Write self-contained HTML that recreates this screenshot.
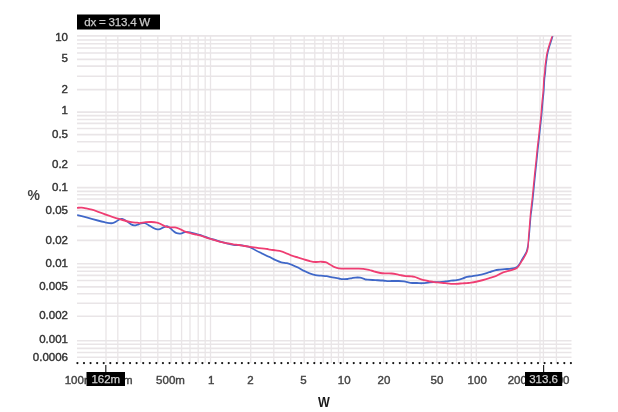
<!DOCTYPE html>
<html><head><meta charset="utf-8"><style>
html,body{margin:0;padding:0;background:#fff;width:618px;height:412px;overflow:hidden}
svg{display:block;filter:blur(0.5px)}
text{font-family:"Liberation Sans",sans-serif;font-size:11px}
.lb text{stroke:currentColor;stroke-width:0.4px;font-size:11.5px}
</style></head><body>
<svg width="618" height="412" viewBox="0 0 618 412">
<rect width="618" height="412" fill="#fff"/>
<g stroke="#e9e5e7">
<line x1="77" x2="571.5" y1="35.9" y2="35.9" stroke-width="1.6"/>
<line x1="77" x2="571.5" y1="40.0" y2="40.0" stroke-width="1.6"/>
<line x1="77" x2="571.5" y1="43.8" y2="43.8" stroke-width="1.6"/>
<line x1="77" x2="571.5" y1="48.0" y2="48.0" stroke-width="1.6"/>
<line x1="77" x2="571.5" y1="53.0" y2="53.0" stroke-width="1.6"/>
<line x1="77" x2="571.5" y1="59.4" y2="59.4" stroke-width="1.6"/>
<line x1="77" x2="571.5" y1="66.1" y2="66.1" stroke-width="1.6"/>
<line x1="77" x2="571.5" y1="76.2" y2="76.2" stroke-width="1.6"/>
<line x1="77" x2="571.5" y1="89.6" y2="89.6" stroke-width="1.6"/>
<line x1="77" x2="571.5" y1="112.1" y2="112.1" stroke-width="1.6"/>
<line x1="77" x2="571.5" y1="115.6" y2="115.6" stroke-width="1.6"/>
<line x1="77" x2="571.5" y1="119.45" y2="119.45" stroke-width="1.6"/>
<line x1="77" x2="571.5" y1="123.4" y2="123.4" stroke-width="1.6"/>
<line x1="77" x2="571.5" y1="128.55" y2="128.55" stroke-width="1.6"/>
<line x1="77" x2="571.5" y1="134.65" y2="134.65" stroke-width="1.6"/>
<line x1="77" x2="571.5" y1="141.7" y2="141.7" stroke-width="1.6"/>
<line x1="77" x2="571.5" y1="151.55" y2="151.55" stroke-width="1.6"/>
<line x1="77" x2="571.5" y1="165.2" y2="165.2" stroke-width="1.6"/>
<line x1="77" x2="571.5" y1="187.6" y2="187.6" stroke-width="1.6"/>
<line x1="77" x2="571.5" y1="191.4" y2="191.4" stroke-width="1.6"/>
<line x1="77" x2="571.5" y1="194.7" y2="194.7" stroke-width="1.6"/>
<line x1="77" x2="571.5" y1="199.0" y2="199.0" stroke-width="1.6"/>
<line x1="77" x2="571.5" y1="203.9" y2="203.9" stroke-width="1.6"/>
<line x1="77" x2="571.5" y1="210.3" y2="210.3" stroke-width="1.6"/>
<line x1="77" x2="571.5" y1="216.2" y2="216.2" stroke-width="1.6"/>
<line x1="77" x2="571.5" y1="226.4" y2="226.4" stroke-width="1.6"/>
<line x1="77" x2="571.5" y1="240.4" y2="240.4" stroke-width="1.6"/>
<line x1="77" x2="571.5" y1="263.7" y2="263.7" stroke-width="1.6"/>
<line x1="77" x2="571.5" y1="267.4" y2="267.4" stroke-width="1.6"/>
<line x1="77" x2="571.5" y1="271.25" y2="271.25" stroke-width="1.6"/>
<line x1="77" x2="571.5" y1="275.4" y2="275.4" stroke-width="1.6"/>
<line x1="77" x2="571.5" y1="280.5" y2="280.5" stroke-width="1.6"/>
<line x1="77" x2="571.5" y1="286.9" y2="286.9" stroke-width="1.6"/>
<line x1="77" x2="571.5" y1="293.7" y2="293.7" stroke-width="1.6"/>
<line x1="77" x2="571.5" y1="303.3" y2="303.3" stroke-width="1.6"/>
<line x1="77" x2="571.5" y1="316.2" y2="316.2" stroke-width="1.6"/>
<line x1="77" x2="571.5" y1="340.7" y2="340.7" stroke-width="1.6"/>
<line x1="77" x2="571.5" y1="344.3" y2="344.3" stroke-width="1.6"/>
<line x1="77" x2="571.5" y1="348.35" y2="348.35" stroke-width="1.6"/>
<line x1="77" x2="571.5" y1="352.5" y2="352.5" stroke-width="1.6"/>
<line x1="77" x2="571.5" y1="357.3" y2="357.3" stroke-width="1.6"/>
<line x1="117.8" x2="117.8" y1="36" y2="363" stroke-width="1.3"/>
<line x1="140.7" x2="140.7" y1="36" y2="363" stroke-width="1.3"/>
<line x1="157.8" x2="157.8" y1="36" y2="363" stroke-width="1.3"/>
<line x1="171.0" x2="171.0" y1="36" y2="363" stroke-width="1.3"/>
<line x1="181.6" x2="181.6" y1="36" y2="363" stroke-width="1.3"/>
<line x1="190.0" x2="190.0" y1="36" y2="363" stroke-width="1.3"/>
<line x1="198.2" x2="198.2" y1="36" y2="363" stroke-width="1.3"/>
<line x1="205.2" x2="205.2" y1="36" y2="363" stroke-width="1.3"/>
<line x1="210.5" x2="210.5" y1="36" y2="363" stroke-width="1.3"/>
<line x1="250.7" x2="250.7" y1="36" y2="363" stroke-width="1.3"/>
<line x1="273.8" x2="273.8" y1="36" y2="363" stroke-width="1.3"/>
<line x1="290.7" x2="290.7" y1="36" y2="363" stroke-width="1.3"/>
<line x1="304.2" x2="304.2" y1="36" y2="363" stroke-width="1.3"/>
<line x1="314.8" x2="314.8" y1="36" y2="363" stroke-width="1.3"/>
<line x1="323.2" x2="323.2" y1="36" y2="363" stroke-width="1.3"/>
<line x1="331.3" x2="331.3" y1="36" y2="363" stroke-width="1.3"/>
<line x1="338.5" x2="338.5" y1="36" y2="363" stroke-width="1.3"/>
<line x1="343.4" x2="343.4" y1="36" y2="363" stroke-width="1.3"/>
<line x1="383.6" x2="383.6" y1="36" y2="363" stroke-width="1.3"/>
<line x1="406.5" x2="406.5" y1="36" y2="363" stroke-width="1.3"/>
<line x1="423.5" x2="423.5" y1="36" y2="363" stroke-width="1.3"/>
<line x1="436.8" x2="436.8" y1="36" y2="363" stroke-width="1.3"/>
<line x1="447.6" x2="447.6" y1="36" y2="363" stroke-width="1.3"/>
<line x1="456.5" x2="456.5" y1="36" y2="363" stroke-width="1.3"/>
<line x1="464.4" x2="464.4" y1="36" y2="363" stroke-width="1.3"/>
<line x1="471.3" x2="471.3" y1="36" y2="363" stroke-width="1.3"/>
<line x1="476.3" x2="476.3" y1="36" y2="363" stroke-width="1.3"/>
<line x1="517.3" x2="517.3" y1="36" y2="363" stroke-width="1.3"/>
<line x1="540.0" x2="540.0" y1="36" y2="363" stroke-width="1.3"/>
<line x1="556.4" x2="556.4" y1="36" y2="363" stroke-width="1.3"/>
<line x1="106.0" x2="106.0" y1="36" y2="363" stroke-width="1.3"/>
<line x1="543.4" x2="543.4" y1="36" y2="363" stroke-width="1.3"/>
</g>
<g fill="#111">
<circle cx="77.40" cy="363.1" r="1.1"/>
<circle cx="83.98" cy="363.1" r="1.1"/>
<circle cx="90.56" cy="363.1" r="1.1"/>
<circle cx="97.14" cy="363.1" r="1.1"/>
<circle cx="103.72" cy="363.1" r="1.1"/>
<circle cx="110.30" cy="363.1" r="1.1"/>
<circle cx="116.88" cy="363.1" r="1.1"/>
<circle cx="123.46" cy="363.1" r="1.1"/>
<circle cx="130.04" cy="363.1" r="1.1"/>
<circle cx="136.62" cy="363.1" r="1.1"/>
<circle cx="143.20" cy="363.1" r="1.1"/>
<circle cx="149.78" cy="363.1" r="1.1"/>
<circle cx="156.36" cy="363.1" r="1.1"/>
<circle cx="162.94" cy="363.1" r="1.1"/>
<circle cx="169.52" cy="363.1" r="1.1"/>
<circle cx="176.10" cy="363.1" r="1.1"/>
<circle cx="182.68" cy="363.1" r="1.1"/>
<circle cx="189.26" cy="363.1" r="1.1"/>
<circle cx="195.84" cy="363.1" r="1.1"/>
<circle cx="202.42" cy="363.1" r="1.1"/>
<circle cx="209.00" cy="363.1" r="1.1"/>
<circle cx="215.58" cy="363.1" r="1.1"/>
<circle cx="222.16" cy="363.1" r="1.1"/>
<circle cx="228.74" cy="363.1" r="1.1"/>
<circle cx="235.32" cy="363.1" r="1.1"/>
<circle cx="241.90" cy="363.1" r="1.1"/>
<circle cx="248.48" cy="363.1" r="1.1"/>
<circle cx="255.06" cy="363.1" r="1.1"/>
<circle cx="261.64" cy="363.1" r="1.1"/>
<circle cx="268.22" cy="363.1" r="1.1"/>
<circle cx="274.80" cy="363.1" r="1.1"/>
<circle cx="281.38" cy="363.1" r="1.1"/>
<circle cx="287.96" cy="363.1" r="1.1"/>
<circle cx="294.54" cy="363.1" r="1.1"/>
<circle cx="301.12" cy="363.1" r="1.1"/>
<circle cx="307.70" cy="363.1" r="1.1"/>
<circle cx="314.28" cy="363.1" r="1.1"/>
<circle cx="320.86" cy="363.1" r="1.1"/>
<circle cx="327.44" cy="363.1" r="1.1"/>
<circle cx="334.02" cy="363.1" r="1.1"/>
<circle cx="340.60" cy="363.1" r="1.1"/>
<circle cx="347.18" cy="363.1" r="1.1"/>
<circle cx="353.76" cy="363.1" r="1.1"/>
<circle cx="360.34" cy="363.1" r="1.1"/>
<circle cx="366.92" cy="363.1" r="1.1"/>
<circle cx="373.50" cy="363.1" r="1.1"/>
<circle cx="380.08" cy="363.1" r="1.1"/>
<circle cx="386.66" cy="363.1" r="1.1"/>
<circle cx="393.24" cy="363.1" r="1.1"/>
<circle cx="399.82" cy="363.1" r="1.1"/>
<circle cx="406.40" cy="363.1" r="1.1"/>
<circle cx="412.98" cy="363.1" r="1.1"/>
<circle cx="419.56" cy="363.1" r="1.1"/>
<circle cx="426.14" cy="363.1" r="1.1"/>
<circle cx="432.72" cy="363.1" r="1.1"/>
<circle cx="439.30" cy="363.1" r="1.1"/>
<circle cx="445.88" cy="363.1" r="1.1"/>
<circle cx="452.46" cy="363.1" r="1.1"/>
<circle cx="459.04" cy="363.1" r="1.1"/>
<circle cx="465.62" cy="363.1" r="1.1"/>
<circle cx="472.20" cy="363.1" r="1.1"/>
<circle cx="478.78" cy="363.1" r="1.1"/>
<circle cx="485.36" cy="363.1" r="1.1"/>
<circle cx="491.94" cy="363.1" r="1.1"/>
<circle cx="498.52" cy="363.1" r="1.1"/>
<circle cx="505.10" cy="363.1" r="1.1"/>
<circle cx="511.68" cy="363.1" r="1.1"/>
<circle cx="518.26" cy="363.1" r="1.1"/>
<circle cx="524.84" cy="363.1" r="1.1"/>
<circle cx="531.42" cy="363.1" r="1.1"/>
<circle cx="538.00" cy="363.1" r="1.1"/>
<circle cx="544.58" cy="363.1" r="1.1"/>
<circle cx="551.16" cy="363.1" r="1.1"/>
<circle cx="557.74" cy="363.1" r="1.1"/>
<circle cx="564.32" cy="363.1" r="1.1"/>
<circle cx="570.90" cy="363.1" r="1.1"/>
</g>
<defs><clipPath id="pc"><rect x="77" y="36.3" width="495" height="327"/></clipPath></defs>
<g clip-path="url(#pc)"><g transform="scale(0.72,1)">
<path d="M107.92,215.20 C109.95,215.57 115.49,216.52 120.14,217.40 C124.79,218.28 131.64,219.70 135.83,220.50 C140.02,221.30 142.64,221.77 145.28,222.20 C147.92,222.63 149.81,222.95 151.67,223.10 C153.52,223.25 154.81,223.35 156.39,223.10 C157.96,222.85 159.54,222.23 161.11,221.60 C162.69,220.97 164.40,219.73 165.83,219.30 C167.27,218.87 168.15,218.75 169.72,219.00 C171.30,219.25 173.31,219.93 175.28,220.80 C177.25,221.67 179.70,223.43 181.53,224.20 C183.36,224.97 184.68,225.32 186.25,225.40 C187.82,225.48 189.40,225.05 190.97,224.70 C192.55,224.35 194.03,223.57 195.69,223.30 C197.36,223.03 199.31,222.85 200.97,223.10 C202.64,223.35 203.84,224.05 205.69,224.80 C207.55,225.55 209.98,226.85 212.08,227.60 C214.19,228.35 216.50,229.10 218.33,229.30 C220.16,229.50 220.97,229.30 223.06,228.80 C225.14,228.30 228.75,226.50 230.83,226.30 C232.92,226.10 234.05,226.90 235.56,227.60 C237.06,228.30 238.22,229.57 239.86,230.50 C241.50,231.43 243.33,232.72 245.42,233.20 C247.50,233.68 250.46,233.60 252.36,233.40 C254.26,233.20 254.88,232.17 256.81,232.00 C258.73,231.83 261.13,232.03 263.89,232.40 C266.64,232.77 270.44,233.63 273.33,234.20 C276.23,234.77 278.38,235.10 281.25,235.80 C284.12,236.50 287.31,237.65 290.56,238.40 C293.80,239.15 297.69,239.67 300.69,240.30 C303.70,240.93 306.00,241.63 308.61,242.20 C311.23,242.77 313.77,243.27 316.39,243.70 C319.00,244.13 321.67,244.55 324.31,244.80 C326.94,245.05 329.65,245.00 332.22,245.20 C334.79,245.40 337.15,245.63 339.72,246.00 C342.29,246.37 345.00,246.65 347.64,247.40 C350.28,248.15 352.94,249.52 355.56,250.50 C358.17,251.48 360.72,252.37 363.33,253.30 C365.95,254.23 369.31,255.45 371.25,256.10 C373.19,256.75 373.06,256.52 375.00,257.20 C376.94,257.88 380.30,259.33 382.92,260.20 C385.53,261.07 388.08,261.90 390.69,262.40 C393.31,262.90 396.00,262.75 398.61,263.20 C401.23,263.65 403.77,264.35 406.39,265.10 C409.00,265.85 411.67,266.75 414.31,267.70 C416.94,268.65 419.61,269.85 422.22,270.80 C424.84,271.75 427.38,272.68 430.00,273.40 C432.62,274.12 435.28,274.72 437.92,275.10 C440.56,275.48 443.22,275.52 445.83,275.70 C448.45,275.88 451.00,275.92 453.61,276.20 C456.23,276.48 458.66,277.02 461.53,277.40 C464.40,277.78 468.47,278.22 470.83,278.50 C473.19,278.78 473.70,279.02 475.69,279.10 C477.69,279.18 480.58,279.17 482.78,279.00 C484.98,278.83 487.08,278.33 488.89,278.10 C490.69,277.87 491.76,277.67 493.61,277.60 C495.46,277.53 497.75,277.42 500.00,277.70 C502.25,277.98 505.37,278.97 507.08,279.30 C508.80,279.63 507.94,279.57 510.28,279.70 C512.62,279.83 517.50,279.97 521.11,280.10 C524.72,280.23 528.98,280.33 531.94,280.50 C534.91,280.67 536.90,281.02 538.89,281.10 C540.88,281.18 541.74,281.02 543.89,281.00 C546.04,280.98 548.94,280.95 551.81,281.00 C554.68,281.05 558.06,281.00 561.11,281.30 C564.17,281.60 567.13,282.52 570.14,282.80 C573.15,283.08 576.37,282.93 579.17,283.00 C581.97,283.07 584.33,283.27 586.94,283.20 C589.56,283.13 592.22,282.78 594.86,282.60 C597.50,282.42 600.16,282.18 602.78,282.10 C605.39,282.02 607.94,282.20 610.56,282.10 C613.17,282.00 615.83,281.73 618.47,281.50 C621.11,281.27 623.77,280.92 626.39,280.70 C629.00,280.48 631.55,280.53 634.17,280.20 C636.78,279.87 639.68,279.27 642.08,278.70 C644.49,278.13 646.57,277.18 648.61,276.80 C650.65,276.42 651.97,276.63 654.31,276.40 C656.64,276.17 659.84,275.77 662.64,275.40 C665.44,275.03 668.29,274.73 671.11,274.20 C673.94,273.67 676.85,272.85 679.58,272.20 C682.31,271.55 685.05,270.73 687.50,270.30 C689.95,269.87 692.06,269.80 694.31,269.60 C696.55,269.40 698.73,269.22 700.97,269.10 C703.22,268.98 705.53,269.05 707.78,268.90 C710.02,268.75 712.66,268.57 714.44,268.20 C716.23,267.83 717.34,267.35 718.47,266.70 C719.61,266.05 720.35,265.27 721.25,264.30 C722.15,263.33 722.78,262.28 723.89,260.90 C725.00,259.52 726.78,257.38 727.92,256.00 C729.05,254.62 730.02,253.65 730.69,252.60 C731.37,251.55 731.53,250.83 731.94,249.70 C732.36,248.57 732.85,247.10 733.19,245.80 C733.54,244.50 733.75,243.40 734.03,241.90 C734.31,240.40 734.58,238.85 734.86,236.80 C735.14,234.75 735.42,232.02 735.69,229.60 C735.97,227.18 736.25,224.73 736.53,222.30 C736.81,219.87 737.06,217.05 737.36,215.00 C737.66,212.95 737.85,212.87 738.33,210.00 C738.82,207.13 739.68,201.85 740.28,197.80 C740.88,193.75 741.39,189.75 741.94,185.70 C742.50,181.65 743.03,177.55 743.61,173.50 C744.19,169.45 744.84,165.43 745.42,161.40 C746.00,157.37 746.48,153.35 747.08,149.30 C747.69,145.25 748.43,140.98 749.03,137.10 C749.63,133.22 750.14,129.68 750.69,126.00 C751.25,122.32 751.85,118.87 752.36,115.00 C752.87,111.13 753.24,106.85 753.75,102.80 C754.26,98.75 754.98,94.75 755.42,90.70 C755.86,86.65 756.04,81.53 756.39,78.50 C756.74,75.47 757.22,74.52 757.50,72.50 C757.78,70.48 757.78,68.43 758.06,66.40 C758.33,64.37 758.77,62.32 759.17,60.30 C759.56,58.28 759.86,56.32 760.42,54.30 C760.97,52.28 761.71,50.23 762.50,48.20 C763.29,46.17 764.26,44.12 765.14,42.10 C766.02,40.08 767.34,37.10 767.78,36.10" fill="none" stroke="#3f67c8" stroke-width="1.85" stroke-linejoin="round" stroke-linecap="round"/>
<path d="M107.50,207.80 C108.50,207.78 111.44,207.60 113.47,207.70 C115.51,207.80 117.36,208.07 119.72,208.40 C122.08,208.73 125.02,209.17 127.64,209.70 C130.25,210.23 132.80,210.93 135.42,211.60 C138.03,212.27 140.69,213.02 143.33,213.70 C145.97,214.38 148.63,215.03 151.25,215.70 C153.87,216.37 156.41,217.10 159.03,217.70 C161.64,218.30 164.31,218.75 166.94,219.30 C169.58,219.85 172.25,220.52 174.86,221.00 C177.48,221.48 180.02,221.92 182.64,222.20 C185.25,222.48 188.61,222.55 190.56,222.70 C192.50,222.85 192.36,223.18 194.31,223.10 C196.25,223.02 199.61,222.38 202.22,222.20 C204.84,222.02 207.38,221.93 210.00,222.00 C212.62,222.07 215.56,222.22 217.92,222.60 C220.28,222.98 222.08,223.62 224.17,224.30 C226.25,224.98 228.31,226.18 230.42,226.70 C232.52,227.22 234.70,227.28 236.81,227.40 C238.91,227.52 240.97,227.17 243.06,227.40 C245.14,227.63 246.94,228.10 249.31,228.80 C251.67,229.50 254.58,230.85 257.22,231.60 C259.86,232.35 262.52,232.78 265.14,233.30 C267.75,233.82 270.30,234.23 272.92,234.70 C275.53,235.17 277.96,235.48 280.83,236.10 C283.70,236.72 286.90,237.65 290.14,238.40 C293.38,239.15 297.27,239.97 300.28,240.60 C303.29,241.23 305.58,241.75 308.19,242.20 C310.81,242.65 313.36,242.95 315.97,243.30 C318.59,243.65 321.25,244.02 323.89,244.30 C326.53,244.58 329.17,244.72 331.81,245.00 C334.44,245.28 337.08,245.68 339.72,246.00 C342.36,246.32 345.00,246.62 347.64,246.90 C350.28,247.18 352.94,247.45 355.56,247.70 C358.17,247.95 360.72,248.18 363.33,248.40 C365.95,248.62 369.31,248.80 371.25,249.00 C373.19,249.20 373.06,249.37 375.00,249.60 C376.94,249.83 380.30,250.12 382.92,250.40 C385.53,250.68 388.08,250.77 390.69,251.30 C393.31,251.83 396.00,252.83 398.61,253.60 C401.23,254.37 403.77,255.23 406.39,255.90 C409.00,256.57 411.67,257.02 414.31,257.60 C416.94,258.18 419.61,258.83 422.22,259.40 C424.84,259.97 427.38,260.57 430.00,261.00 C432.62,261.43 435.28,261.88 437.92,262.00 C440.56,262.12 443.47,261.67 445.83,261.70 C448.19,261.73 450.00,261.73 452.08,262.20 C454.17,262.67 456.23,263.67 458.33,264.50 C460.44,265.33 462.64,266.55 464.72,267.20 C466.81,267.85 468.13,268.17 470.83,268.40 C473.54,268.63 477.96,268.57 480.97,268.60 C483.98,268.63 486.27,268.60 488.89,268.60 C491.50,268.60 494.05,268.57 496.67,268.60 C499.28,268.63 501.94,268.60 504.58,268.80 C507.22,269.00 509.88,269.33 512.50,269.80 C515.12,270.27 517.66,271.07 520.28,271.60 C522.89,272.13 525.56,272.70 528.19,273.00 C530.83,273.30 533.50,273.32 536.11,273.40 C538.73,273.48 541.27,273.33 543.89,273.50 C546.50,273.67 549.75,274.12 551.81,274.40 C553.87,274.68 554.31,274.92 556.25,275.20 C558.19,275.48 560.97,275.90 563.47,276.10 C565.97,276.30 569.17,276.28 571.25,276.40 C573.33,276.52 574.12,276.42 575.97,276.80 C577.82,277.18 580.25,278.13 582.36,278.70 C584.47,279.27 586.27,279.77 588.61,280.20 C590.95,280.63 594.03,280.98 596.39,281.30 C598.75,281.62 600.42,281.88 602.78,282.10 C605.14,282.32 607.94,282.42 610.56,282.60 C613.17,282.78 615.83,283.00 618.47,283.20 C621.11,283.40 623.77,283.70 626.39,283.80 C629.00,283.90 631.55,283.87 634.17,283.80 C636.78,283.73 639.68,283.52 642.08,283.40 C644.49,283.28 646.57,283.22 648.61,283.10 C650.65,282.98 651.97,282.97 654.31,282.70 C656.64,282.43 659.84,281.95 662.64,281.50 C665.44,281.05 668.29,280.55 671.11,280.00 C673.94,279.45 676.85,278.80 679.58,278.20 C682.31,277.60 685.05,277.10 687.50,276.40 C689.95,275.70 692.06,274.77 694.31,274.00 C696.55,273.23 698.73,272.37 700.97,271.80 C703.22,271.23 705.53,271.05 707.78,270.60 C710.02,270.15 712.66,269.58 714.44,269.10 C716.23,268.62 717.34,268.35 718.47,267.70 C719.61,267.05 720.35,266.13 721.25,265.20 C722.15,264.27 722.78,263.38 723.89,262.10 C725.00,260.82 726.57,259.23 727.92,257.50 C729.26,255.77 731.04,253.32 731.94,251.70 C732.85,250.08 733.03,249.27 733.33,247.80 C733.63,246.33 733.61,244.73 733.75,242.90 C733.89,241.07 733.96,239.02 734.17,236.80 C734.38,234.58 734.72,232.02 735.00,229.60 C735.28,227.18 735.56,224.73 735.83,222.30 C736.11,219.87 736.41,217.05 736.67,215.00 C736.92,212.95 736.92,212.87 737.36,210.00 C737.80,207.13 738.70,201.85 739.31,197.80 C739.91,193.75 740.42,189.75 740.97,185.70 C741.53,181.65 742.06,177.55 742.64,173.50 C743.22,169.45 743.87,165.43 744.44,161.40 C745.02,157.37 745.51,153.35 746.11,149.30 C746.71,145.25 747.45,140.98 748.06,137.10 C748.66,133.22 749.17,129.68 749.72,126.00 C750.28,122.32 750.88,118.87 751.39,115.00 C751.90,111.13 752.27,106.85 752.78,102.80 C753.29,98.75 754.00,94.75 754.44,90.70 C754.88,86.65 755.07,81.53 755.42,78.50 C755.76,75.47 756.25,74.52 756.53,72.50 C756.81,70.48 756.81,68.43 757.08,66.40 C757.36,64.37 757.80,62.32 758.19,60.30 C758.59,58.28 758.89,56.32 759.44,54.30 C760.00,52.28 760.74,50.23 761.53,48.20 C762.31,46.17 763.26,44.12 764.17,42.10 C765.07,40.08 766.48,37.10 766.94,36.10" fill="none" stroke="#ef3d72" stroke-width="1.85" stroke-linejoin="round" stroke-linecap="round"/>
</g></g>
<g class="lb" fill="#333" color="#333" text-anchor="end">
<text x="68" y="40.5">10</text>
<text x="68" y="61.9">5</text>
<text x="68" y="92.6">2</text>
<text x="68" y="114.4">1</text>
<text x="68" y="137.9">0.5</text>
<text x="68" y="167.9">0.2</text>
<text x="68" y="191.2">0.1</text>
<text x="68" y="213.6">0.05</text>
<text x="68" y="243.6">0.02</text>
<text x="68" y="266.5">0.01</text>
<text x="68" y="289.5">0.005</text>
<text x="68" y="319.4">0.002</text>
<text x="68" y="342.7">0.001</text>
<text x="68" y="360.7">0.0006</text>
</g>
<g class="lb" fill="#444" color="#444" text-anchor="middle">
<text x="79.1" y="384.2">100m</text>
<text x="118.3" y="384.2">200m</text>
<text x="170.5" y="384.2">500m</text>
<text x="211.2" y="384.2">1</text>
<text x="250.5" y="384.2">2</text>
<text x="303.4" y="384.2">5</text>
<text x="344.2" y="384.2">10</text>
<text x="384.0" y="384.2">20</text>
<text x="437.0" y="384.2">50</text>
<text x="477.2" y="384.2">100</text>
<text x="517.3" y="384.2">200</text>
</g>
<g class="lb" color="#444"><text x="569.5" y="384.2" fill="#444" text-anchor="end">500</text></g>
<text x="33.8" y="200.4" fill="#444" text-anchor="middle" style="font-size:14px;font-weight:bold">%</text>
<text x="318" y="406.6" fill="#1a1a1a" textLength="11.8" lengthAdjust="spacingAndGlyphs" style="font-size:14.3px;font-weight:bold">W</text>
<rect x="77" y="14.5" width="83" height="15" fill="#000"/>
<text x="84.3" y="26.1" fill="#cacaca" stroke="#cacaca" stroke-width="0.25" textLength="66" lengthAdjust="spacing" style="font-size:11.6px">dx = 313.4 W</text>
<line x1="105.8" x2="105.8" y1="365" y2="372" stroke="#222" stroke-width="1.2"/>
<rect x="86.5" y="372" width="38.5" height="14" fill="#000"/>
<text x="105.8" y="383.4" fill="#d2d2d2" stroke="#d2d2d2" stroke-width="0.25" text-anchor="middle" style="font-size:11.5px">162m</text>
<line x1="543.6" x2="543.6" y1="365" y2="372" stroke="#222" stroke-width="1.2"/>
<rect x="525" y="372" width="37.2" height="14" fill="#000"/>
<text x="543.6" y="383.4" fill="#d2d2d2" stroke="#d2d2d2" stroke-width="0.25" text-anchor="middle" style="font-size:11.5px">313.6</text>
</svg>
</body></html>
